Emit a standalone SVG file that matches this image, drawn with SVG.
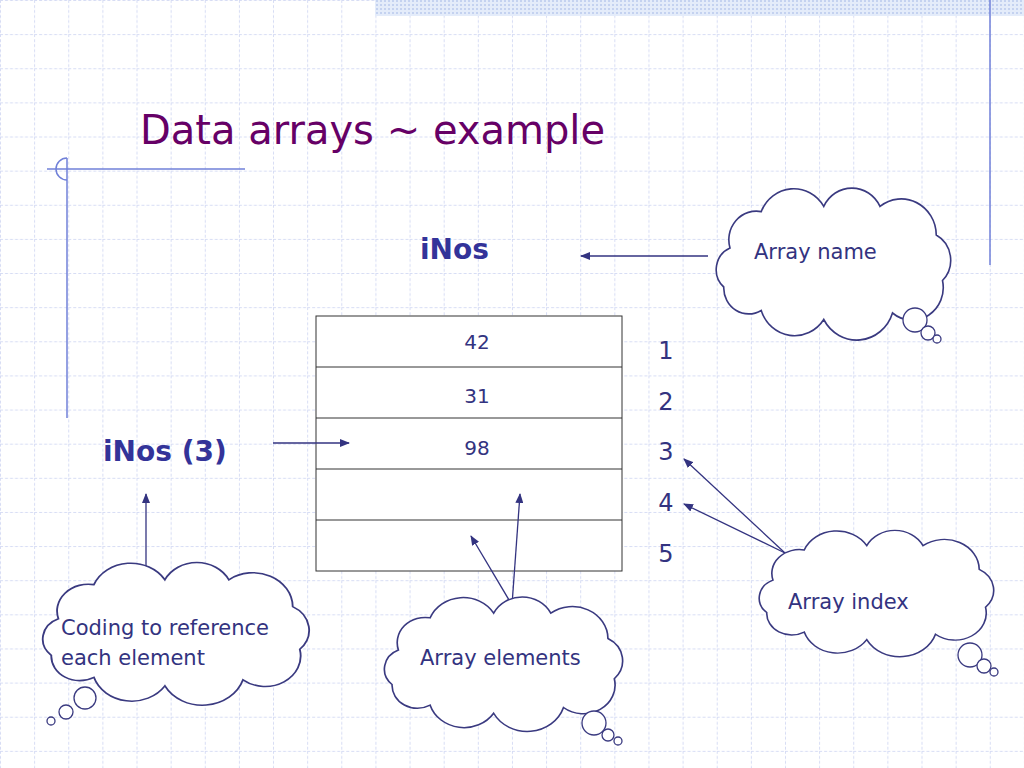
<svg xmlns="http://www.w3.org/2000/svg" width="1024" height="768" viewBox="0 0 1024 768">
<defs>
<pattern id="grid" width="34.13" height="34.13" patternUnits="userSpaceOnUse">
<path d="M0,0.5H34.13M0.5,0V34.13" fill="none" stroke="#d6dcf4" stroke-width="1" stroke-dasharray="3,2"/>
</pattern>
<pattern id="dots" width="4" height="4" patternUnits="userSpaceOnUse">
<rect width="4" height="4" fill="#e4ecfa"/><rect width="2" height="2" fill="#c4d2f0"/>
</pattern>
<path id="cloud" d="M20,40 A22,22 0 0 1 45,12 A28,28 0 0 1 95,8 A25,25 0 0 1 140,8 A28,28 0 0 1 185,30 A22,22 0 0 1 190,65 A25,25 0 0 1 150,90 A30,30 0 0 1 95,95 A28,28 0 0 1 45,88 A20,20 0 0 1 15,70 A18,18 0 0 1 20,40 Z"/>
<marker id="ah" markerWidth="10" markerHeight="8" refX="9" refY="4" orient="auto" markerUnits="userSpaceOnUse">
<path d="M0,0 L10,4 L0,8 Z" fill="#333380"/>
</marker>
</defs>
<style>
.c{fill:#fff;stroke:#3a3a80;stroke-width:1.3;vector-effect:non-scaling-stroke}
.b{fill:#fff;stroke:#3a3a80;stroke-width:1.3}
.t{font-family:"DejaVu Sans",sans-serif;font-size:21px;fill:#333380}
.n{font-family:"DejaVu Sans",sans-serif;font-size:28px;font-weight:bold;fill:#333399}
.v{font-family:"DejaVu Sans",sans-serif;font-size:20px;fill:#333380;text-anchor:middle}
.i{font-family:"DejaVu Sans",sans-serif;font-size:24px;fill:#333380;text-anchor:middle}
.a{stroke:#333380;stroke-width:1.3;fill:none;marker-end:url(#ah)}
</style>
<rect width="1024" height="768" fill="#fff"/>
<rect width="1024" height="768" fill="url(#grid)"/>
<rect x="375" y="0" width="649" height="16" fill="url(#dots)"/>
<g id="decor" stroke="#7080d8" stroke-width="1.5" fill="none">
<line x1="47" y1="169" x2="245" y2="169"/>
<line x1="67" y1="158" x2="67" y2="418"/>
<path d="M67,158 A11,11 0 0 0 67,180"/>
<line x1="990" y1="0" x2="990" y2="265"/>
</g>
<text id="title" x="140" y="144" font-family="DejaVu Sans,sans-serif" font-size="40" fill="#660066">Data arrays ~ example</text>
<g id="name"><text class="n" x="420" y="259">iNos</text></g>
<g id="ref"><text class="n" x="103" y="461">iNos (3)</text></g>
<g id="table">
<rect x="316" y="316" width="306" height="255" fill="#fff" stroke="#333" stroke-width="1"/>
<path d="M316,367H622M316,418H622M316,469H622M316,520H622" stroke="#333" stroke-width="1"/>
<text class="v" x="477" y="349">42</text>
<text class="v" x="477" y="403">31</text>
<text class="v" x="477" y="455">98</text>
</g>
<g id="indices">
<text class="i" x="666" y="359">1</text>
<text class="i" x="666" y="410">2</text>
<text class="i" x="666" y="460">3</text>
<text class="i" x="666" y="511">4</text>
<text class="i" x="666" y="562">5</text>
</g>
<g id="connectors">
<line class="a" x1="708" y1="256" x2="581" y2="256"/>
<line class="a" x1="273" y1="443" x2="349" y2="443"/>
<line class="a" x1="146" y1="572" x2="146" y2="494"/>
<line class="a" x1="512" y1="605" x2="520" y2="494"/>
<line class="a" x1="512" y1="605" x2="471" y2="536"/>
<line class="a" x1="785" y1="553" x2="684" y2="459"/>
<line class="a" x1="785" y1="553" x2="684" y2="504"/>
</g>
<g id="cloud-name">
<use href="#cloud" class="c" transform="translate(705,196) scale(1.25,1.3)"/>
<circle class="b" cx="915" cy="320" r="12"/><circle class="b" cx="928" cy="333" r="7"/><circle class="b" cx="937" cy="339" r="4"/>
<text class="t" x="754" y="259">Array name</text>
</g>
<g id="cloud-index">
<use href="#cloud" class="c" transform="translate(748,537) scale(1.25,1.08)"/>
<circle class="b" cx="970" cy="655" r="12"/><circle class="b" cx="984" cy="666" r="7"/><circle class="b" cx="994" cy="672" r="4"/>
<text class="t" x="788" y="609">Array index</text>
</g>
<g id="cloud-elements">
<use href="#cloud" class="c" transform="translate(373,604) scale(1.27,1.15)"/>
<circle class="b" cx="594" cy="723" r="12"/><circle class="b" cx="608" cy="735" r="6"/><circle class="b" cx="618" cy="741" r="4"/>
<text class="t" x="420" y="665">Array elements</text>
</g>
<g id="cloud-coding">
<use href="#cloud" class="c" transform="translate(30,570) scale(1.42,1.22)"/>
<circle class="b" cx="85" cy="698" r="11"/><circle class="b" cx="66" cy="712" r="7"/><circle class="b" cx="51" cy="721" r="4"/>
<text class="t" x="61" y="635">Coding to reference</text>
<text class="t" x="61" y="665">each element</text>
</g>
</svg>
